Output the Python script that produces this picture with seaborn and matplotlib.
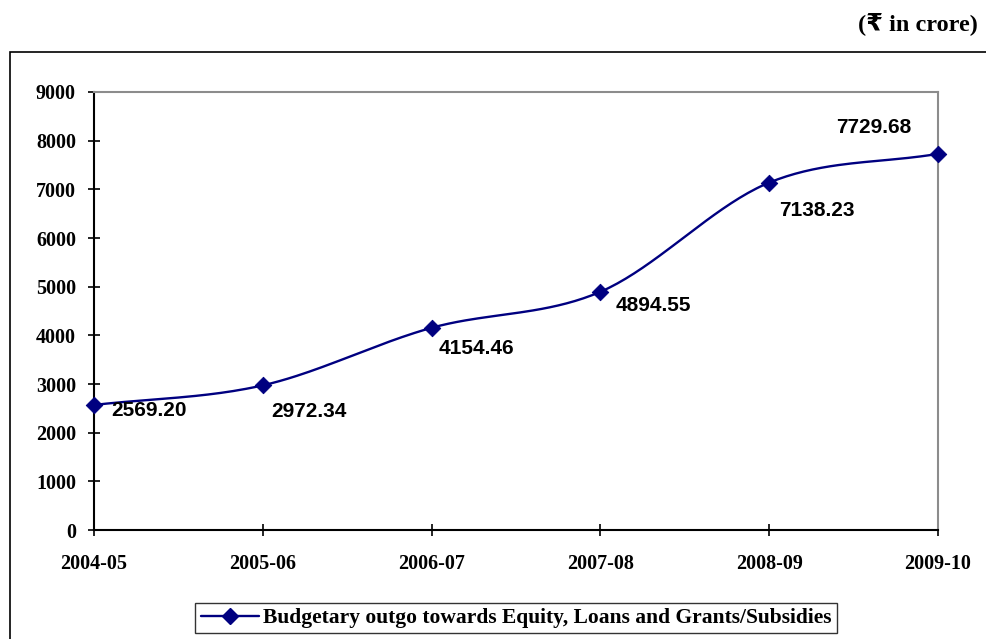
import numpy as np
import pandas as pd
import matplotlib
matplotlib.use('Agg')
import matplotlib.pyplot as plt
from matplotlib.lines import Line2D
from matplotlib.patches import Rectangle
import seaborn as sns

years = ['2004-05', '2005-06', '2006-07', '2007-08', '2008-09', '2009-10']
outgo = [2569.20, 2972.34, 4154.46, 4894.55, 7138.23, 7729.68]
series_name = 'Budgetary outgo towards Equity, Loans and Grants/Subsidies'
y_ticks = [0, 1000, 2000, 3000, 4000, 5000, 6000, 7000, 8000, 9000]

NAVY = '#000080'

sns.set_style('white')
plt.rcParams['text.color'] = 'black'
plt.rcParams['xtick.color'] = 'black'
plt.rcParams['ytick.color'] = 'black'

# excel style smoothed line: catmull-rom through the points
def smooth(xs, ys, n=40):
	xs = np.asarray(xs, float)
	ys = np.asarray(ys, float)
	px = np.concatenate([[2*xs[0]-xs[1]], xs, [2*xs[-1]-xs[-2]]])
	py = np.concatenate([[2*ys[0]-ys[1]], ys, [2*ys[-1]-ys[-2]]])
	ox, oy = [], []
	for i in range(1, len(px)-2):
		t = np.linspace(0, 1, n, endpoint=(i == len(px)-3))
		for arr, out in ((px, ox), (py, oy)):
			p0, p1, p2, p3 = arr[i-1], arr[i], arr[i+1], arr[i+2]
			out.extend(0.5*((2*p1) + (-p0+p2)*t + (2*p0-5*p1+4*p2-p3)*t**2 + (-p0+3*p1-3*p2+p3)*t**3))
	return np.array(ox), np.array(oy)

xpos = np.arange(len(years))
df = pd.DataFrame({'x': xpos, 'value': outgo})
sx, sy = smooth(xpos, np.array(outgo)/1000.0)
curve = pd.DataFrame({'x': sx, 'y': sy*1000.0})

fig = plt.figure(figsize=(9.86, 6.39), dpi=100)
ax = fig.add_axes([94/986, 1-530/639, (938-94)/986, (530-92)/639])

sns.lineplot(data=curve, x='x', y='y', ax=ax, color=NAVY, linewidth=1.7, sort=False, estimator=None)
sns.scatterplot(data=df, x='x', y='value', ax=ax, color=NAVY, marker='D', s=70, edgecolor=NAVY, zorder=5, clip_on=False)

# label offsets in pixels (right, down)
offsets_px = [(17, 6), (8, 26), (7, 21), (15, 14), (10, 28), (-102, -26)]
for x, v, (dx, dy) in zip(xpos, outgo, offsets_px):
	ax.annotate('{:.2f}'.format(v), (x, v), xytext=(dx*0.72, -dy*0.72), textcoords='offset points',
		ha='left', va='center', fontsize=15, fontweight='bold', family='Liberation Sans', color='black')

ax.set_xlim(0, len(years)-1)
ax.set_ylim(0, 9000)
ax.set_xticks(xpos)
ax.set_xticklabels(years)
ax.set_yticks(y_ticks)
ax.set_xlabel('')
ax.set_ylabel('')
for lab in ax.get_xticklabels() + ax.get_yticklabels():
	lab.set_family('Liberation Serif')
	lab.set_fontweight('bold')
	lab.set_fontsize(14.5)
ax.tick_params(axis='both', bottom=True, left=True, direction='inout', length=9, width=1.2, color='black')
ax.tick_params(axis='x', pad=13)
ax.tick_params(axis='y', pad=8.5)

for side in ['left', 'bottom']:
	ax.spines[side].set_color('black')
	ax.spines[side].set_linewidth(1.5)
for side in ['top', 'right']:
	ax.spines[side].set_color('#8c8c8c')
	ax.spines[side].set_linewidth(1.5)

handle = Line2D([], [], color=NAVY, linewidth=1.7, marker='D', markersize=8, markerfacecolor=NAVY)
leg = fig.legend([handle], [series_name], loc='center', bbox_to_anchor=(516/986, 1-618/639),
	frameon=True, fancybox=False, edgecolor='black', handlelength=2.7, handletextpad=0.2,
	borderpad=0.25, borderaxespad=0.2, prop={'family': 'Liberation Serif', 'weight': 'bold', 'size': 15.5})
leg.get_frame().set_linewidth(1.0)

# outer chart frame
fig.patches.append(Rectangle((10/986, -0.05), 1.0, 1-52/639+0.05, transform=fig.transFigure,
	fill=False, edgecolor='black', linewidth=1.2))

fig.text(978/986, 1-24/639, '(\u20b9 in crore)', ha='right', va='center', fontsize=17.5,
	fontweight='bold', family=['Liberation Serif', 'DejaVu Sans'])

fig.savefig('out.png', dpi=100)
